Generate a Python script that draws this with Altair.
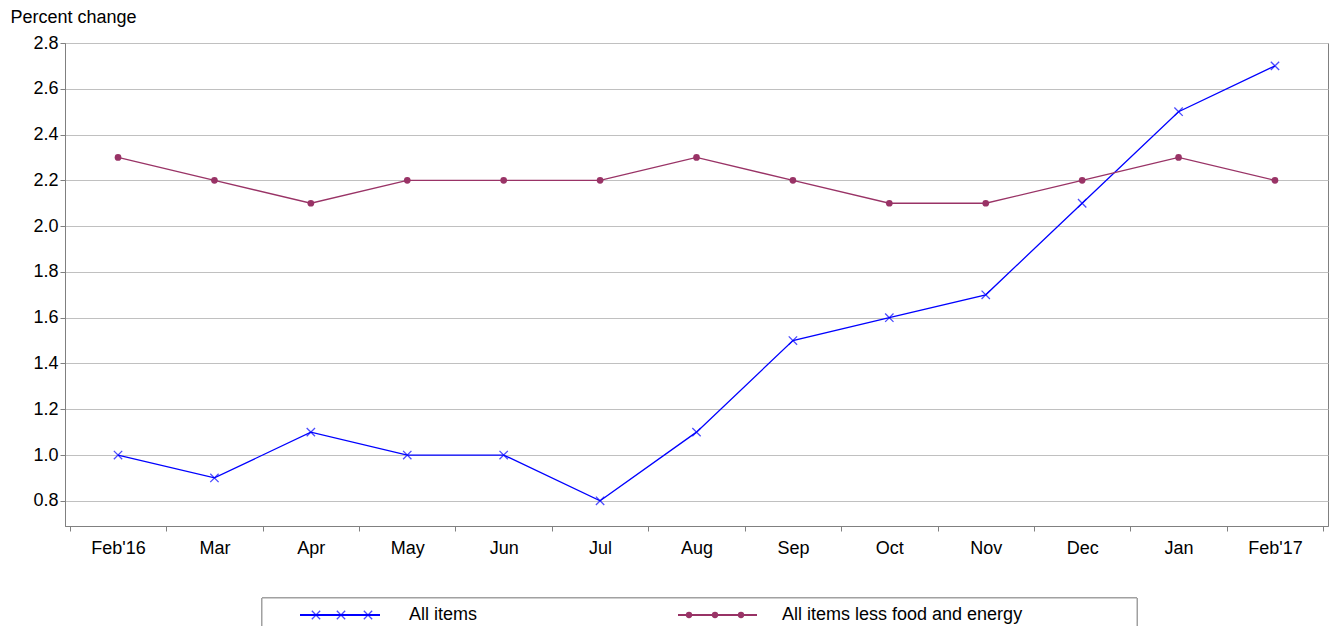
import altair as alt
import pandas as pd

months = ["Feb'16", "Mar", "Apr", "May", "Jun", "Jul", "Aug", "Sep", "Oct", "Nov", "Dec", "Jan", "Feb'17"]
all_items = [1.0, 0.9, 1.1, 1.0, 1.0, 0.8, 1.1, 1.5, 1.6, 1.7, 2.1, 2.5, 2.7]
core = [2.3, 2.2, 2.1, 2.2, 2.2, 2.2, 2.3, 2.2, 2.1, 2.1, 2.2, 2.3, 2.2]
y_ticks = [0.8, 1.0, 1.2, 1.4, 1.6, 1.8, 2.0, 2.2, 2.4, 2.6, 2.8]

BLUE = "#0000FF"
PURPLE = "#993366"
FONT = "Liberation Sans"
XSHAPE = "M-1,-1L1,1M-1,1L1,-1"

df = pd.DataFrame({"month": months, "all": all_items, "core": core})

x = alt.X("month:N", sort=months, title=None,
          scale=alt.Scale(paddingInner=0, paddingOuter=0.05),
          axis=alt.Axis(labelAngle=0, tickBand="extent", grid=False, labelPadding=8))
yaxis = alt.Axis(values=y_ticks, format=".1f", title="Percent change", titleAngle=0,
                 titleAlign="left", titleBaseline="bottom", titleX=-55, titleY=-17,
                 titleFontWeight="normal", gridColor="#C0C0C0", tickSize=5)
yscale = alt.Scale(domain=[0.69, 2.8], nice=False, zero=False)

base = alt.Chart(df).encode(x=x)
blue_line = base.mark_line(color=BLUE, strokeWidth=1.3).encode(
    y=alt.Y("all:Q", scale=yscale, axis=yaxis))
blue_pts = base.mark_point(shape=XSHAPE, color=BLUE, size=70, strokeWidth=1.3,
                           filled=False).encode(y="all:Q")
pur_line = base.mark_line(color=PURPLE, strokeWidth=1.3).encode(y="core:Q")
pur_pts = base.mark_circle(color=PURPLE, size=45, opacity=1).encode(y="core:Q")

# legend drawn by hand below the plot
leg_box = alt.Chart(df).mark_rect(fill="white", stroke="#A0A0A0", clip=False).encode(
    x=alt.value(197), x2=alt.value(1072), y=alt.value(555), y2=alt.value(620))
leg_l1 = alt.Chart(df).mark_rule(color=BLUE, strokeWidth=1.3).encode(
    x=alt.value(235), x2=alt.value(315), y=alt.value(572))
leg_l2 = alt.Chart(df).mark_rule(color=PURPLE, strokeWidth=1.3).encode(
    x=alt.value(613), x2=alt.value(692), y=alt.value(572))
leg_marks = []
for px in [251, 276, 303]:
    leg_marks.append(alt.Chart(df.head(1)).mark_point(shape=XSHAPE, color=BLUE, size=70,
                                                       strokeWidth=1.3).encode(x=alt.value(px), y=alt.value(572)))
for px in [624, 650, 676]:
    leg_marks.append(alt.Chart(df.head(1)).mark_circle(color=PURPLE, size=40, opacity=1).encode(
        x=alt.value(px), y=alt.value(572)))
leg_t1 = alt.Chart(df.head(1)).mark_text(text="All items", align="left", baseline="middle",
                                         font=FONT, fontSize=18).encode(x=alt.value(344), y=alt.value(572))
leg_t2 = alt.Chart(df.head(1)).mark_text(text="All items less food and energy", align="left",
                                         baseline="middle", font=FONT, fontSize=18).encode(
    x=alt.value(717), y=alt.value(572))

chart = alt.layer(blue_line, pur_line, blue_pts, pur_pts, leg_box, leg_l1, leg_l2, *leg_marks,
                  leg_t1, leg_t2).properties(
    width=1263, height=483, autosize=alt.AutoSizeParams(type="none"),
    padding={"left": 57, "top": 35, "right": 2, "bottom": 100},
).configure_view(stroke="#808080").configure_axis(
    labelFont=FONT, titleFont=FONT, labelFontSize=18, titleFontSize=18, labelColor="black",
    titleColor="black", domainColor="#808080", tickColor="#808080")

chart.save("out.html", embed_options={"renderer": "svg", "actions": False})
